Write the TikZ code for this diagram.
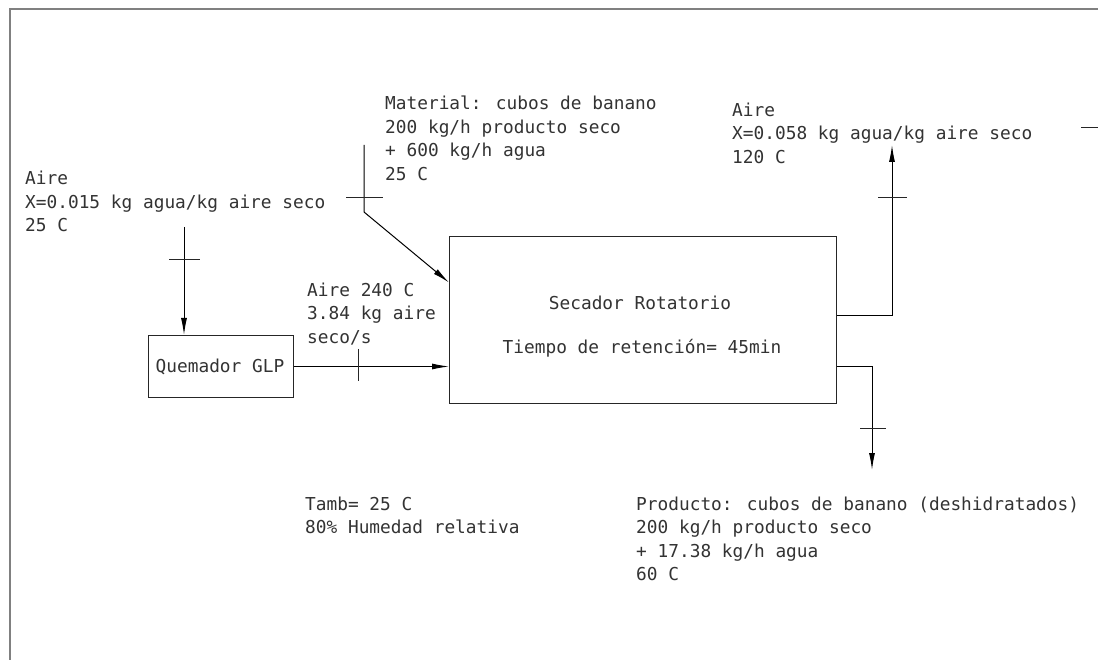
\documentclass[tikz,border=0pt]{standalone}
\usepackage{fontspec}
\newfontfamily\cadfont{DejaVu Sans Mono}
\usetikzlibrary{arrows.meta}
\begin{document}
\begin{tikzpicture}[x=1pt,y=-1pt,
  every node/.style={font=\cadfont\fontsize{17.8}{23.5}\selectfont, text=black!80, inner sep=0pt},
  lbl/.style={anchor=north west, align=left},
  unit/.style={draw=black!85, line width=1pt},
  flow/.style={draw=black, line width=1pt, -{Latex[length=17pt,width=6pt]}},
  tick/.style={draw=black!85, line width=0.9pt},
  frame/.style={draw=black!50, line width=2pt}]
\useasboundingbox (0,0) rectangle (1098,660);
\fill[white] (0,0) rectangle (1098,660);
\draw[frame] (10,662) -- (10,9) -- (1100,9);
\draw[tick] (1081,127) -- (1098,127);

% units
\node[unit, minimum width=387pt, minimum height=167pt, anchor=north west] (sec) at (449,236) {};
\node (sect1) at (640,303) {Secador Rotatorio};
\node (sect2) at (642,348) {Tiempo de retención= 45min};
\node[unit, minimum width=145pt, minimum height=62pt, anchor=north west] (quem) at (148,335) {};
\node (quemt) at (220,367) {Quemador GLP};

% labels
\node[lbl] (l1) at (25,171) {Aire\\X=0.015 kg agua/kg aire seco\\25 C};
\node[lbl] (l2) at (385,96) {Material: cubos de banano\\200 kg/h producto seco\\+ 600 kg/h agua\\25 C};
\node[lbl] (l3) at (732,102.5) {Aire\\X=0.058 kg agua/kg aire seco\\120 C};
\node[lbl] (l4) at (307,282.5) {Aire 240 C\\3.84 kg aire\\seco/s};
\node[lbl] (l5) at (305,496.5) {Tamb= 25 C\\80\% Humedad relativa};
\node[lbl] (l6) at (636,496.5) {Producto: cubos de banano (deshidratados)\\200 kg/h producto seco\\+ 17.38 kg/h agua\\60 C};

% streams
\coordinate (ain) at (184,227);
\draw[flow] (ain) -- (ain |- quem.north);
\draw[tick] (169,259) -- (200,259);

\draw[flow] (quem.east) -- (quem.east -| sec.west);
\draw[tick] (358,349) -- (358,381);

\coordinate (min) at (364,145);
\coordinate (mbend) at (364,212);
\draw[flow] (min) -- (mbend) -- ([yshift=-46.5pt]sec.north west);
\draw[tick] (346,197) -- (383,197);

\coordinate (aout) at (892,145);
\draw[flow] ([yshift=-79.5pt]sec.north east) -| (aout);
\draw[tick] (878,197) -- (907,197);

\coordinate (pout) at (872,470);
\draw[flow] ([yshift=-130.5pt]sec.north east) -| (pout);
\draw[tick] (860,428) -- (886,428);
\end{tikzpicture}
\end{document}
